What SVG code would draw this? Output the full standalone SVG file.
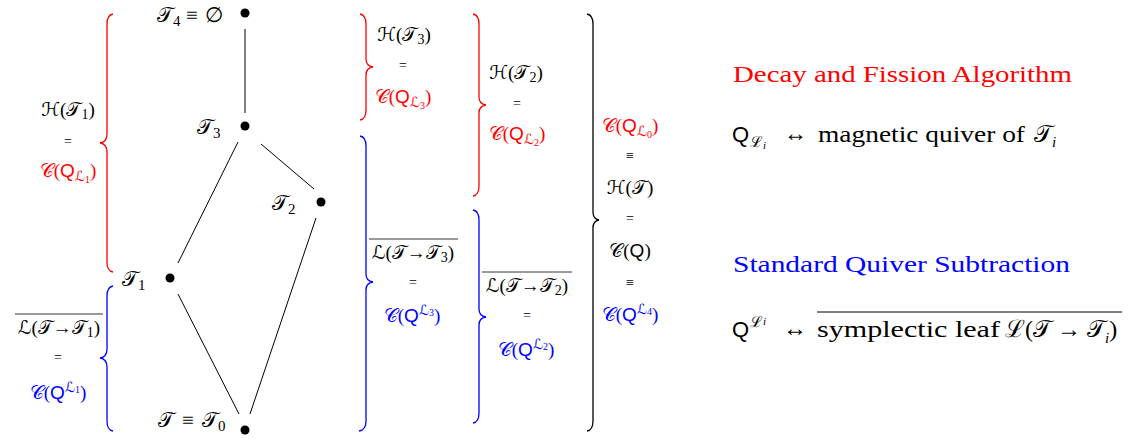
<svg xmlns="http://www.w3.org/2000/svg" width="1128" height="439" viewBox="0 0 1128 439">
<style>
.m{font-family:"Liberation Serif","DejaVu Serif","DejaVu Sans",serif;font-size:19px;fill:#000}
.n{font-family:"Liberation Serif","DejaVu Serif","DejaVu Sans",serif;font-size:21px;fill:#000}
.sub{font-size:14px}
.ssub{font-size:10px}
.eq{font-family:"Liberation Serif","DejaVu Serif",serif;font-size:14px;fill:#000}
.big{font-family:"Liberation Serif","DejaVu Serif",serif;font-size:24px;fill:#000}
.s{font-family:"Liberation Sans","DejaVu Sans",sans-serif}
.red{fill:#ff0000}
.blue{fill:#0000ff}
.edge{stroke:#000;stroke-width:1;fill:none}
.brace{stroke-width:1.3;fill:none}
.ol{stroke:#000;stroke-width:0.8}
</style>
<rect width="1128" height="439" fill="#fff"/>
<g id="connectors">
<line class="edge" x1="245" y1="29" x2="245" y2="113"/>
<line class="edge" x1="238" y1="142" x2="178" y2="263"/>
<line class="edge" x1="261" y1="144" x2="314" y2="189"/>
<line class="edge" x1="178" y1="294" x2="239" y2="414"/>
<line class="edge" x1="316" y1="218" x2="250" y2="414"/>
</g>
<g id="node-T4"><circle cx="245" cy="13" r="4.5"/><text class="n" x="157" y="22">𝒯<tspan dy="4" style="font-size:15px">4</tspan><tspan dy="-4" x="186">≡</tspan><tspan x="205">∅</tspan></text></g>
<g id="node-T3"><circle cx="245" cy="126" r="4.5"/><text class="n" x="197" y="134">𝒯<tspan dy="4" style="font-size:15px">3</tspan></text></g>
<g id="node-T2"><circle cx="321" cy="202" r="4.5"/><text class="n" x="272" y="210">𝒯<tspan dy="4" style="font-size:15px">2</tspan></text></g>
<g id="node-T1"><circle cx="170" cy="278" r="4.5"/><text class="n" x="122" y="286">𝒯<tspan dy="4" style="font-size:15px">1</tspan></text></g>
<g id="node-T0"><circle cx="245" cy="430" r="4.5"/><text class="n" x="158" y="427">𝒯<tspan x="182">≡</tspan><tspan x="202">𝒯</tspan><tspan dy="4" style="font-size:15px">0</tspan></text></g>

<g id="brace-H-T1">
<path class="brace" stroke="#ff0000" d="M113,14 Q107,15 107,24 L107,134 Q107,142 100,143 Q107,144 107,152 L107,262 Q107,271 113,272"/>
<text class="m" x="68" y="116" text-anchor="middle">ℋ(𝒯<tspan class="sub" dy="3">1</tspan><tspan dy="-3">)</tspan></text>
<text class="eq" x="68" y="146" text-anchor="middle">=</text>
<text class="m red" x="68" y="177" text-anchor="middle">𝒞(<tspan class="s">Q</tspan><tspan class="sub" dy="4">ℒ</tspan><tspan class="ssub" dy="2">1</tspan><tspan dy="-6">)</tspan></text>
</g>
<g id="brace-L-T1">
<path class="brace" stroke="#0000ff" d="M113,286 Q107,287 107,296 L107,349 Q107,357 100,358 Q107,359 107,367 L107,421 Q107,430 113,431"/>
<line class="ol" x1="15" y1="314" x2="103" y2="314"/>
<text class="m" x="59" y="334" text-anchor="middle">ℒ(𝒯→𝒯<tspan class="sub" dy="3">1</tspan><tspan dy="-3">)</tspan></text>
<text class="eq" x="58" y="362" text-anchor="middle">=</text>
<text class="m blue" x="58" y="399" text-anchor="middle">𝒞(<tspan class="s">Q</tspan><tspan class="sub" dy="-7">ℒ</tspan><tspan class="ssub" dy="1">1</tspan><tspan dy="6">)</tspan></text>
</g>

<g id="brace-H-T3">
<path class="brace" stroke="#ff0000" d="M360,14 Q366,15 366,24 L366,59 Q366,66 373,67 Q366,68 366,75 L366,110 Q366,119 360,120"/>
<text class="m" x="404" y="41" text-anchor="middle">ℋ(𝒯<tspan class="sub" dy="3">3</tspan><tspan dy="-3">)</tspan></text>
<text class="eq" x="403" y="70" text-anchor="middle">=</text>
<text class="m red" x="403" y="103" text-anchor="middle">𝒞(<tspan class="s">Q</tspan><tspan class="sub" dy="4">ℒ</tspan><tspan class="ssub" dy="2">3</tspan><tspan dy="-6">)</tspan></text>
</g>
<g id="brace-L-T3">
<path class="brace" stroke="#0000ff" d="M360,136 Q366,137 366,146 L366,274 Q366,281 373,282 Q366,283 366,290 L366,421 Q366,430 359,431"/>
<line class="ol" x1="369" y1="239" x2="458" y2="239"/>
<text class="m" x="413" y="259" text-anchor="middle">ℒ(𝒯→𝒯<tspan class="sub" dy="3">3</tspan><tspan dy="-3">)</tspan></text>
<text class="eq" x="413" y="287" text-anchor="middle">=</text>
<text class="m blue" x="412" y="322" text-anchor="middle">𝒞(<tspan class="s">Q</tspan><tspan class="sub" dy="-7">ℒ</tspan><tspan class="ssub" dy="1">3</tspan><tspan dy="6">)</tspan></text>
</g>

<g id="brace-H-T2">
<path class="brace" stroke="#ff0000" d="M473,14 Q479,15 479,24 L479,97 Q479,104 486,105 Q479,106 479,113 L479,186 Q479,195 473,196"/>
<text class="m" x="516" y="79" text-anchor="middle">ℋ(𝒯<tspan class="sub" dy="3">2</tspan><tspan dy="-3">)</tspan></text>
<text class="eq" x="517" y="108" text-anchor="middle">=</text>
<text class="m red" x="517" y="140" text-anchor="middle">𝒞(<tspan class="s">Q</tspan><tspan class="sub" dy="4">ℒ</tspan><tspan class="ssub" dy="2">2</tspan><tspan dy="-6">)</tspan></text>
</g>
<g id="brace-L-T2">
<path class="brace" stroke="#0000ff" d="M473,210 Q479,211 479,220 L479,309 Q479,316 486,317 Q479,318 479,325 L479,413 Q479,422 473,423"/>
<line class="ol" x1="482" y1="272" x2="572" y2="272"/>
<text class="m" x="527" y="292" text-anchor="middle">ℒ(𝒯→𝒯<tspan class="sub" dy="3">2</tspan><tspan dy="-3">)</tspan></text>
<text class="eq" x="527" y="320" text-anchor="middle">=</text>
<text class="m blue" x="526" y="356" text-anchor="middle">𝒞(<tspan class="s">Q</tspan><tspan class="sub" dy="-7">ℒ</tspan><tspan class="ssub" dy="1">2</tspan><tspan dy="6">)</tspan></text>
</g>

<g id="brace-total">
<path class="brace" stroke="#000" d="M587,14 Q593,15 593,24 L593,212 Q593,219 599,220 Q593,221 593,228 L593,421 Q593,430 587,431"/>
<text class="m red" x="630" y="132" text-anchor="middle">𝒞(<tspan class="s">Q</tspan><tspan class="sub" dy="4">ℒ</tspan><tspan class="ssub" dy="2">0</tspan><tspan dy="-6">)</tspan></text>
<text class="eq" x="630" y="160" text-anchor="middle">≡</text>
<text class="m" x="630" y="194" text-anchor="middle">ℋ(𝒯)</text>
<text class="eq" x="630" y="223" text-anchor="middle">=</text>
<text class="m" x="630" y="257" text-anchor="middle">𝒞(<tspan class="s">Q</tspan>)</text>
<text class="eq" x="630" y="287" text-anchor="middle">≡</text>
<text class="m blue" x="630" y="321" text-anchor="middle">𝒞(<tspan class="s">Q</tspan><tspan class="sub" dy="-7">ℒ</tspan><tspan class="ssub" dy="1">4</tspan><tspan dy="6">)</tspan></text>
</g>

<g id="legend">
<text class="big red" x="733" y="82" textLength="339" lengthAdjust="spacingAndGlyphs">Decay and Fission Algorithm</text>
<text class="big s" x="732" y="142" style="font-size:22px">Q</text>
<text class="big" x="750" y="147" style="font-size:15px">ℒ</text>
<text class="big" x="763" y="149" style="font-size:11px;font-style:italic">i</text>
<text class="big" x="784" y="141" textLength="23" lengthAdjust="spacingAndGlyphs">↔</text>
<text class="big" x="818" y="142" textLength="207" lengthAdjust="spacingAndGlyphs">magnetic quiver of</text>
<text class="big" x="1034" y="142">𝒯</text>
<text class="big" x="1052" y="147" style="font-size:15px;font-style:italic">i</text>

<text class="big blue" x="733" y="272" textLength="337" lengthAdjust="spacingAndGlyphs">Standard Quiver Subtraction</text>
<line class="ol" x1="817" y1="312" x2="1122" y2="312" style="stroke-width:1"/>
<text class="big s" x="732" y="337" style="font-size:22px">Q</text>
<text class="big" x="750" y="327" style="font-size:15px">ℒ</text>
<text class="big" x="763" y="325" style="font-size:11px;font-style:italic">i</text>
<text class="big" x="783" y="336" textLength="24" lengthAdjust="spacingAndGlyphs">↔</text>
<text class="big" x="817" y="337" textLength="183" lengthAdjust="spacingAndGlyphs">symplectic leaf</text>
<text class="big" x="1005" y="337">ℒ(𝒯 → 𝒯<tspan dy="6" style="font-size:15px;font-style:italic">i</tspan><tspan dy="-6">)</tspan></text>
</g>
</svg>
